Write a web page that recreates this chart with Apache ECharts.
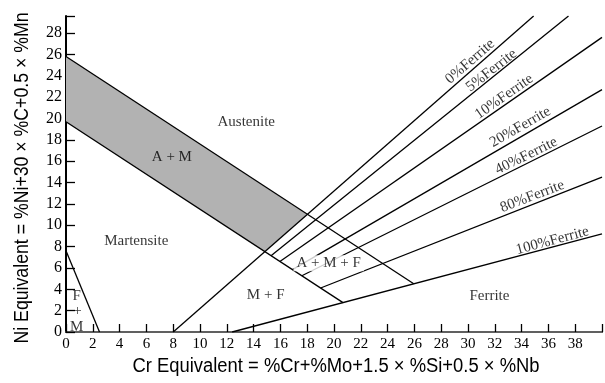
<!DOCTYPE html>
<html>
<head>
<meta charset="utf-8">
<script src="https://cdn.jsdelivr.net/npm/echarts@6/dist/echarts.min.js"></script>
<style>
html,body{margin:0;padding:0;background:#fff;}
#chart{width:605px;height:383px;}
</style>
</head>
<body>
<div id="chart"></div>
<script>
// ---- data ----
const xTickValues = [0,2,4,6,8,10,12,14,16,18,20,22,24,26,28,30,32,34,36,38];
const yTickValues = [0,2,4,6,8,10,12,14,16,18,20,22,24,26,28];
const boundaryUpper = [[0,25.8],[25.95,4.52]];
const boundaryLower = [[0,19.7],[20.67,2.75]];
const boundaryFM = [[0,7.6],[2.5,0]];
const ferrite0 = [[8,0],[34.9,29.6]];
const ferrite5 = [[15.3,7.15],[37.5,29.6]];
const ferrite10 = [[15.96,6.61],[40,27.6]];
const ferrite20 = [[16.9,5.84],[40,22.7]];
const ferrite40 = [[17.6,5.27],[40,19.3]];
const ferrite80 = [[19.0,4.12],[40,14.5]];
const ferrite100 = [[12.4,0],[40,9.2]];
const amRegion = [[0,25.8],[18.02,10.98],[14.84,7.53],[0,19.7]];
const regionNames = ['Austenite','A + M','Martensite','M + F','A + M + F','Ferrite','F','+','M'];
const regionPos = [[13.45,19.7],[7.9,16.4],[5.24,8.53],[14.9,3.47],[19.6,6.44],[31.6,3.37],[0.8,3.37],[0.85,2.0],[0.8,0.47]];
const ferriteNames = ['0%Ferrite','5%Ferrite','10%Ferrite','20%Ferrite','40%Ferrite','80%Ferrite','100%Ferrite'];
const ferriteLabelPos = [[30.16,25.33],[31.75,24.5],[32.7,22.05],[33.9,19.2],[34.35,16.5],[34.8,12.7],[36.3,8.55]];
const ferriteLabelAngle = [41,38,35,30,26,21,15];
const xTitle = 'Cr Equivalent = %Cr+%Mo+1.5 × %Si+0.5 × %Nb';
const yTitle = 'Ni Equivalent = %Ni+30 × %C+0.5 × %Mn';

// ---- chart ----
const chart = echarts.init(document.getElementById('chart'), null, {renderer:'canvas'});
const serif = 'Liberation Serif';
const lineSets = [boundaryUpper, boundaryLower, boundaryFM, ferrite0, ferrite5, ferrite10, ferrite20, ferrite40, ferrite80, ferrite100];
const lineSeries = lineSets.map(d => ({
  type:'line', data:d, symbol:'none', silent:true, animation:false, z:3,
  lineStyle:{color:'#000', width:1.3}
}));

const option = {
  animation:false,
  grid:{left:66, right:2, top:16, bottom:51},
  xAxis:[{
    type:'value', min:0, max:40, interval:2,
    axisLine:{show:true, onZero:false, lineStyle:{color:'#000', width:2}},
    axisTick:{show:true, inside:true, length:8, lineStyle:{color:'#000', width:1.3}},
    axisLabel:{color:'#000', fontFamily:serif, fontSize:15, margin:5,
      formatter:v => xTickValues.indexOf(v) >= 0 ? String(v) : ''},
    splitLine:{show:false}
  },{
    type:'value', position:'top', min:0, max:40,
    axisLine:{show:true, lineStyle:{color:'#808080', width:1.5}},
    axisTick:{show:false}, axisLabel:{show:false}, splitLine:{show:false}
  }],
  yAxis:{
    type:'value', min:0, max:29.6, interval:2,
    axisLine:{show:true, onZero:false, lineStyle:{color:'#000', width:2}},
    axisTick:{show:true, inside:true, length:9, lineStyle:{color:'#000', width:1.3}},
    axisLabel:{color:'#000', fontFamily:serif, fontSize:16, margin:4,
      formatter:v => yTickValues.indexOf(v) >= 0 ? String(v) : ''},
    splitLine:{show:false}
  },
  graphic:[
    {type:'text', x:336, y:366, scaleX:0.92, style:{text:xTitle, fill:'#000', font:'20px "Liberation Sans"', textAlign:'center', textVerticalAlign:'middle'}},
    {type:'text', x:22, y:178, rotation:Math.PI/2, scaleX:0.885, style:{text:yTitle, fill:'#000', font:'20px "Liberation Sans"', textAlign:'center', textVerticalAlign:'middle'}}
  ],
  series:[
    {
      type:'custom', silent:true, z:1,
      renderItem:(params, api) => ({
        type:'polygon',
        shape:{points: amRegion.map(p => api.coord(p))},
        style:{fill:'#b2b2b2', stroke:'none'}
      }),
      data:[0]
    },
    ...lineSeries,
    {
      type:'scatter', symbolSize:0, silent:true, z:10,
      data: regionNames.map((n,i) => ({
        value: regionPos[i], name:n,
        label: n === 'A + M + F' ? {backgroundColor:'#fff', padding:[1,3,0,3]} : {}
      })),
      label:{show:true, position:'inside', formatter:p => p.name, color:'#000', fontFamily:serif, fontSize:15}
    },
    {
      type:'scatter', symbolSize:0, silent:true, z:10,
      data: ferriteNames.map((n,i) => ({
        value: ferriteLabelPos[i], name:n,
        label:{rotate: ferriteLabelAngle[i]}
      })),
      label:{show:true, position:'inside', formatter:p => p.name, color:'#000', fontFamily:serif, fontSize:15}
    }
  ]
};
chart.setOption(option);
</script>
</body>
</html>
